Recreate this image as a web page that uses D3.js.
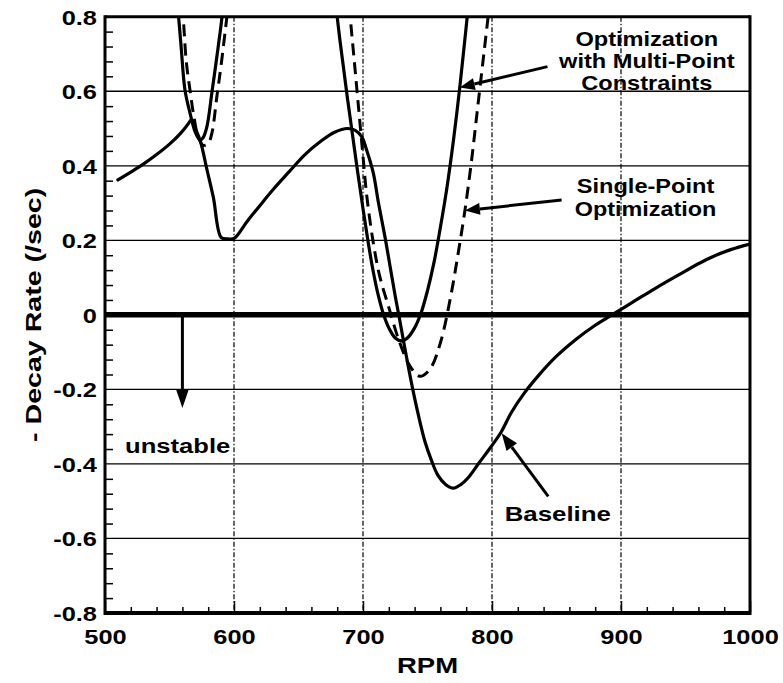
<!DOCTYPE html>
<html>
<head>
<meta charset="utf-8">
<script src="https://cdn.jsdelivr.net/npm/d3@7"></script>
<style>
  body { margin: 0; background: #fff; }
  svg { display: block; }
  text { font-family: "Liberation Sans", Arial, Helvetica, sans-serif; font-weight: bold; fill: #000; }
</style>
</head>
<body>
<svg id="chart" width="783" height="683"></svg>
<script>
// ---- axis ticks ----
const xTicks = [500, 600, 700, 800, 900, 1000];
const xTickLabels = ["500", "600", "700", "800", "900", "1000"];
const yTicks = [-0.8, -0.6, -0.4, -0.2, 0, 0.2, 0.4, 0.6, 0.8];
const yTickLabels = ["-0.8", "-0.6", "-0.4", "-0.2", "0", "0.2", "0.4", "0.6", "0.8"];
const xGridValues = [600, 700, 800, 900];
const yGridValues = [-0.6, -0.4, -0.2, 0.2, 0.4, 0.6];

// ---- Baseline (solid) ----
const baselineRpm = [510, 520, 530, 540, 550, 558, 564, 567, 570, 574, 579, 584, 590, 595, 600,
  610, 620, 630, 643, 655, 667, 678, 688, 694, 699, 703, 708, 712, 717, 721, 725, 728,
  733, 738, 743, 748, 753, 758, 764, 770, 776, 782, 790, 798, 807, 815, 825, 836,
  850, 865, 880, 893, 910, 926, 945, 966, 985, 1000];
const baselineVal = [0.362, 0.383, 0.405, 0.43, 0.458, 0.485, 0.51, 0.523, 0.50, 0.465, 0.39, 0.315, 0.208, 0.204, 0.205,
  0.25, 0.293, 0.335, 0.385, 0.43, 0.465, 0.49, 0.50, 0.495, 0.478, 0.44, 0.38, 0.30, 0.21, 0.13, 0.05, -0.005,
  -0.10, -0.19, -0.27, -0.34, -0.39, -0.43, -0.455, -0.465, -0.455, -0.435, -0.397, -0.36, -0.315, -0.262, -0.21, -0.163,
  -0.111, -0.066, -0.028, 0.0, 0.036, 0.07, 0.108, 0.148, 0.175, 0.19];

// ---- Optimization with multi-point constraints (solid), two branches ----
const multiLowRpm = [556, 557, 559, 562, 566, 570, 573.6, 576, 579, 583, 586.6, 590.4, 591.5];
const multiLowVal = [0.83, 0.80, 0.72, 0.603, 0.54, 0.49, 0.469, 0.475, 0.505, 0.60, 0.69, 0.79, 0.83];
const multiHighRpm = [679, 682, 685, 688, 692, 696, 700, 704, 708, 712, 716, 720, 725, 730,
  735, 740, 745, 750, 755, 760, 765, 770, 775, 779, 782];
const multiHighVal = [0.83, 0.74, 0.66, 0.58, 0.48, 0.38, 0.285, 0.195, 0.115, 0.05, 0.0, -0.035, -0.062, -0.07,
  -0.06, -0.035, 0.005, 0.065, 0.14, 0.235, 0.34, 0.465, 0.61, 0.74, 0.84];

// ---- Single-point optimization (dashed), two branches ----
const singleLowRpm = [560, 561, 563, 566, 569, 572, 576, 580, 583, 586.5, 590, 594.5, 595.5];
const singleLowVal = [0.83, 0.78, 0.68, 0.60, 0.53, 0.48, 0.455, 0.46, 0.49, 0.58, 0.67, 0.80, 0.83];
const singleHighRpm = [689, 690, 693, 696, 699.5, 703, 708, 713, 720, 728, 736, 744, 752, 760,
  768, 774, 779, 784, 789, 794, 798];
const singleHighVal = [0.83, 0.80, 0.69, 0.577, 0.445, 0.317, 0.193, 0.103, 0.02, -0.07, -0.135, -0.165, -0.145, -0.075,
  0.05, 0.17, 0.28, 0.41, 0.56, 0.71, 0.83];

// ---- layout ----
const svg = d3.select("#chart");
const plotLeft = 105, plotRight = 750, plotTop = 16.7, plotBottom = 613;

const x = d3.scaleLinear().domain([500, 1000]).range([plotLeft, plotRight]);
const y = d3.scaleLinear().domain([-0.8, 0.8]).range([plotBottom, plotTop]);

const zip = (a, b) => a.map((v, i) => [v, b[i]]);

// label drawn with a horizontal stretch to mimic the wide bold face
function label(parent, px, py, str, size, k, anchor, rotate) {
  const g = parent.append("g")
    .attr("transform", `translate(${px},${py})` + (rotate ? ` rotate(${rotate})` : "") + ` scale(${k},1)`);
  g.append("text")
    .attr("text-anchor", anchor || "middle")
    .style("font-size", size + "px")
    .text(str);
  return g;
}

svg.append("defs").append("clipPath").attr("id", "plotClip")
  .append("rect").attr("x", plotLeft).attr("y", plotTop)
  .attr("width", plotRight - plotLeft).attr("height", plotBottom - plotTop);

// ---- grid ----
const grid = svg.append("g");
grid.selectAll("line.h").data(yGridValues).join("line")
  .attr("class", "h")
  .attr("x1", plotLeft).attr("x2", plotRight)
  .attr("y1", d => y(d)).attr("y2", d => y(d))
  .attr("stroke", "#000").attr("stroke-width", 1.3);
grid.selectAll("line.v").data(xGridValues).join("line")
  .attr("class", "v")
  .attr("y1", plotTop).attr("y2", plotBottom)
  .attr("x1", d => x(d)).attr("x2", d => x(d))
  .attr("stroke", "#000").attr("stroke-width", 1.2)
  .attr("stroke-dasharray", "5,2,1.5,2");
// heavy zero line
grid.append("line")
  .attr("x1", plotLeft).attr("x2", plotRight)
  .attr("y1", y(0)).attr("y2", y(0))
  .attr("stroke", "#000").attr("stroke-width", 5.5);

// ---- curves ----
const lineGen = d3.line().x(d => x(d[0])).y(d => y(d[1])).curve(d3.curveCatmullRom.alpha(0.5));
const curves = svg.append("g").attr("clip-path", "url(#plotClip)");

const solidSeries = [
  zip(baselineRpm, baselineVal),
  zip(multiLowRpm, multiLowVal),
  zip(multiHighRpm, multiHighVal)
];
const dashedSeries = [
  zip(singleLowRpm, singleLowVal),
  zip(singleHighRpm, singleHighVal)
];

curves.selectAll("path.solid").data(solidSeries).join("path")
  .attr("class", "solid")
  .attr("d", lineGen)
  .attr("fill", "none").attr("stroke", "#000").attr("stroke-width", 3.2)
  .attr("stroke-linejoin", "round").attr("stroke-linecap", "round");
curves.selectAll("path.dashed").data(dashedSeries).join("path")
  .attr("class", "dashed")
  .attr("d", lineGen)
  .attr("fill", "none").attr("stroke", "#000").attr("stroke-width", 3)
  .attr("stroke-dasharray", "12,7");

// ---- axes ----
const tickStretch = 1.24;
const yAxis = svg.append("g").attr("transform", `translate(${plotLeft},0)`)
  .call(d3.axisLeft(y).tickValues(yTicks).tickFormat((d, i) => yTickLabels[i]).tickSize(0).tickPadding(8));
const yMinor = d3.range(-0.76, 0.8, 0.04).filter(v => Math.abs(v * 5 - Math.round(v * 5)) > 1e-6);
svg.append("g").attr("transform", `translate(${plotLeft},0)`)
  .call(d3.axisLeft(y).tickValues(yMinor).tickFormat("").tickSize(-8))
  .call(g => g.select(".domain").remove());

const xAxis = svg.append("g").attr("transform", `translate(0,${plotBottom})`)
  .call(d3.axisBottom(x).tickValues(xTicks).tickFormat((d, i) => xTickLabels[i]).tickSize(-12).tickPadding(16));
const xMinor = d3.range(520, 1000, 20).filter(v => v % 100 !== 0);
svg.append("g").attr("transform", `translate(0,${plotBottom})`)
  .call(d3.axisBottom(x).tickValues(xMinor).tickFormat("").tickSize(-6))
  .call(g => g.select(".domain").remove());

[yAxis, xAxis].forEach(a => {
  a.select(".domain").remove();
  a.selectAll(".tick text")
    .style("font-size", "20.5px")
    .style("font-family", '"Liberation Sans", Arial, sans-serif')
    .style("font-weight", "bold")
    .attr("fill", "#000")
    .attr("transform", `scale(${tickStretch},1)`);
});
svg.selectAll(".tick line").attr("stroke", "#000").attr("stroke-width", 1.5);
yAxis.selectAll(".tick text").attr("x", -8 / tickStretch).attr("dy", "0.36em");

// ---- frame ----
const frame = svg.append("g").attr("stroke", "#000").attr("fill", "none");
frame.append("line").attr("x1", plotLeft).attr("x2", plotRight).attr("y1", plotTop).attr("y2", plotTop).attr("stroke-width", 3);
frame.append("line").attr("x1", plotLeft).attr("x2", plotRight).attr("y1", plotBottom).attr("y2", plotBottom).attr("stroke-width", 4);
frame.append("line").attr("x1", plotLeft).attr("x2", plotLeft).attr("y1", plotTop - 1.5).attr("y2", plotBottom + 2).attr("stroke-width", 3);
frame.append("line").attr("x1", plotRight).attr("x2", plotRight).attr("y1", plotTop - 1.5).attr("y2", plotBottom + 2).attr("stroke-width", 3);

// ---- axis titles ----
label(svg, (plotLeft + plotRight) / 2, 673, "RPM", 22, 1.25, "middle");
label(svg, 41, y(0), "- Decay Rate (/sec)", 22, 1.3, "middle", -90);

// ---- annotations ----
const ann = svg.append("g");
function arrow(x1, y1, x2, y2, headLen, headHalf) {
  const ang = Math.atan2(y2 - y1, x2 - x1);
  const bx = x2 - headLen * Math.cos(ang), by = y2 - headLen * Math.sin(ang);
  ann.append("line").attr("x1", x1).attr("y1", y1).attr("x2", bx).attr("y2", by)
    .attr("stroke", "#000").attr("stroke-width", 3);
  const px = -Math.sin(ang) * headHalf, py = Math.cos(ang) * headHalf;
  ann.append("path")
    .attr("d", `M${x2},${y2}L${bx + px},${by + py}L${bx - px},${by - py}Z`)
    .attr("fill", "#000");
}

// multi-point label and arrow
label(ann, x(920), y(0.721), "Optimization", 20, 1.18, "middle");
label(ann, x(920), y(0.662), "with Multi-Point", 20, 1.18, "middle");
label(ann, x(920), y(0.603), "Constraints", 20, 1.18, "middle");
arrow(x(843), y(0.666), x(775), y(0.61), 15, 6);

// single-point label and arrow
label(ann, x(919), y(0.327), "Single-Point", 20, 1.18, "middle");
label(ann, x(919), y(0.265), "Optimization", 20, 1.17, "middle");
arrow(x(854), y(0.308), x(779), y(0.28), 15, 6);

// baseline label and arrow
label(ann, x(851), y(-0.553), "Baseline", 21, 1.23, "middle");
arrow(x(843.6), y(-0.487), x(807.5), y(-0.318), 17, 6.5);

// unstable direction
label(ann, x(515.5), y(-0.37), "unstable", 20, 1.28, "start");
arrow(x(560), y(0.0), x(560), y(-0.25), 19, 6.5);
</script>
</body>
</html>
